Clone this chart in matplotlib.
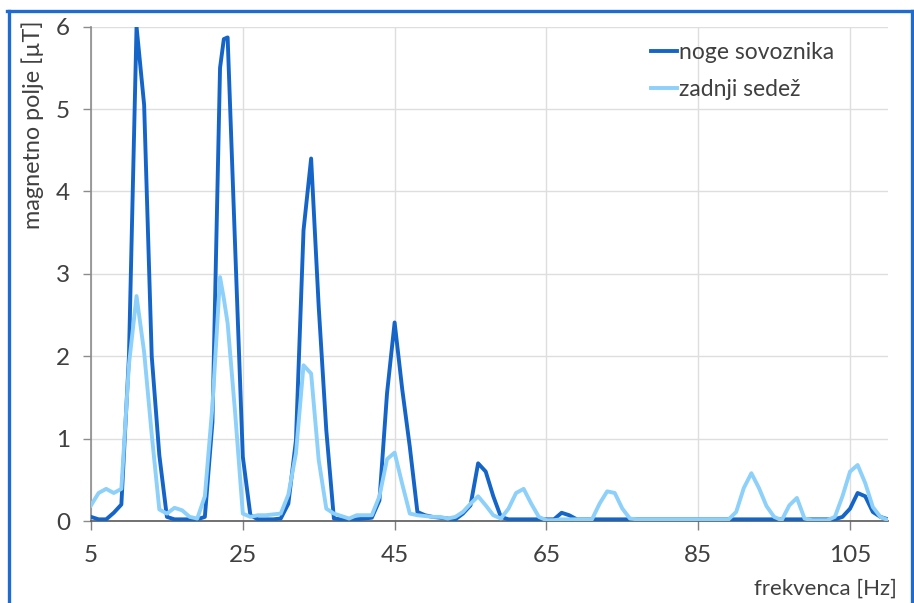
import matplotlib
matplotlib.use("Agg")
import matplotlib.pyplot as plt
from matplotlib.lines import Line2D

# ---- data ----
freq = [5, 6, 7, 8, 9, 10, 11, 12, 13, 14, 15, 16, 17, 18, 19, 20, 21, 22, 22.5,
        23, 24, 25, 26, 27, 28, 29, 30, 31, 32,
        33, 34, 35, 36, 37, 38, 39, 40, 41, 42,
        43, 44, 45, 46, 47, 48, 49, 50, 51, 52,
        53, 54, 55, 56, 57, 58, 59, 60, 61, 62,
        63, 64, 65, 66, 67, 68, 69, 70, 71, 72,
        73, 74, 75, 76, 77, 78, 79, 80, 81, 82,
        83, 84, 85, 86, 87, 88, 89, 90, 91, 92,
        93, 94, 95, 96, 97, 98, 99, 100, 101, 102,
        103, 104, 105, 106, 107, 108, 109, 110]

noge_sovoznika = [0.05, 0.02, 0.02, 0.10, 0.20, 2.0, 6.0, 5.05, 2.0, 0.8, 0.05, 0.02, 0.02, 0.02, 0.02, 0.05, 1.2, 5.5, 5.85,
                  5.87, 3.3, 0.78, 0.07, 0.02, 0.02, 0.02, 0.03, 0.21, 0.98,
                  3.53, 4.40, 2.6, 1.1, 0.03, 0.02, 0.02, 0.02, 0.03, 0.04,
                  0.25, 1.55, 2.41, 1.6, 0.9, 0.11, 0.07, 0.05, 0.04, 0.03,
                  0.02, 0.09, 0.19, 0.70, 0.60, 0.30, 0.05, 0.02, 0.02, 0.02,
                  0.02, 0.02, 0.02, 0.02, 0.10, 0.07, 0.02, 0.02, 0.02, 0.02,
                  0.02, 0.02, 0.02, 0.02, 0.02, 0.02, 0.02, 0.02, 0.02, 0.02,
                  0.02, 0.02, 0.02, 0.02, 0.02, 0.02, 0.02, 0.02, 0.02, 0.02,
                  0.02, 0.02, 0.02, 0.02, 0.02, 0.02, 0.02, 0.02, 0.02, 0.02,
                  0.02, 0.05, 0.15, 0.34, 0.30, 0.11, 0.05, 0.02]

zadnji_sedez = [0.19, 0.34, 0.39, 0.34, 0.39, 1.9, 2.73, 2.05, 1.05, 0.14, 0.09, 0.16, 0.13, 0.05, 0.03, 0.30, 1.4, 2.96, 2.7,
                2.4, 1.3, 0.09, 0.05, 0.07, 0.07, 0.08, 0.09, 0.32, 0.82,
                1.89, 1.79, 0.74, 0.15, 0.09, 0.06, 0.03, 0.07, 0.07, 0.07,
                0.30, 0.75, 0.83, 0.45, 0.09, 0.07, 0.06, 0.05, 0.05, 0.03,
                0.05, 0.11, 0.21, 0.30, 0.19, 0.07, 0.03, 0.15, 0.34, 0.39,
                0.21, 0.05, 0.01, 0.01, 0.02, 0.02, 0.02, 0.02, 0.02, 0.21,
                0.36, 0.34, 0.15, 0.03, 0.02, 0.02, 0.02, 0.02, 0.02, 0.02,
                0.02, 0.02, 0.02, 0.02, 0.02, 0.02, 0.02, 0.11, 0.40, 0.58,
                0.40, 0.18, 0.05, 0.01, 0.19, 0.28, 0.03, 0.01, 0.01, 0.01,
                0.05, 0.30, 0.60, 0.68, 0.46, 0.17, 0.05, 0.01]

series_names = ["noge sovoznika", "zadnji sedež"]
x_ticks = [5, 25, 45, 65, 85, 105]
y_ticks = [0, 1, 2, 3, 4, 5, 6]
x_label = "frekvenca [Hz]"
y_label = "magnetno polje [µT]"

# ---- style ----
W, H = 914, 603
DPI = 100
text_col = "#404040"
dark_col = "#1565C8"
light_col = "#8DD0FA"
border_col = "#1F6BD0"
plt.rcParams['font.family'] = ['Lato', 'DejaVu Sans']

fig = plt.figure(figsize=(W / DPI, H / DPI), dpi=DPI)
fig.patch.set_facecolor("white")

def fx(px):
    return px / W

def fy(py):
    return 1 - py / H

ax = fig.add_axes([fx(91), fy(521), fx(888) - fx(91), fy(26.7) - fy(521)])

ax.plot(freq, noge_sovoznika, color=dark_col, lw=2.8, label=series_names[0],
        solid_joinstyle='round', zorder=3)
ax.plot(freq, zadnji_sedez, color=light_col, lw=2.8, label=series_names[1],
        solid_joinstyle='round', zorder=4)

ax.set_xlim(5, 110)
ax.set_ylim(0, 6)
ax.set_xticks(x_ticks)
ax.set_yticks(y_ticks)
ax.tick_params(axis='both', labelsize=17.5, labelcolor=text_col)
ax.tick_params(axis='x', direction='out', length=6.5, width=1.0, color="#7f7f7f", pad=11)
ax.tick_params(axis='y', direction='out', length=6, width=1.0, color="#8c8c8c", pad=9)

ax.grid(True, color="#dedede", lw=1.0, zorder=0)
ax.set_axisbelow(True)
for s in ['top', 'right']:
    ax.spines[s].set_visible(False)
ax.spines['left'].set_color("#8c8c8c")
ax.spines['left'].set_linewidth(1.2)
ax.spines['bottom'].set_color("#595959")
ax.spines['bottom'].set_linewidth(1.2)

fig.text(fx(33), fy(125), y_label, rotation=90, ha='center', va='center',
         fontsize=16.8, color=text_col)
fig.text(fx(897), fy(589), x_label, ha='right', va='center',
         fontsize=16, color=text_col)

leg = ax.legend(loc='upper left', bbox_to_anchor=(fx(651), fy(42)),
                bbox_transform=fig.transFigure, frameon=False, fontsize=16.5,
                handlelength=1.15, handletextpad=0.08, borderpad=0,
                borderaxespad=0, labelspacing=0.68)
for t in leg.get_texts():
    t.set_color(text_col)

# outer blue frame
fig.add_artist(Line2D([fx(8.5), fx(8.5)], [fy(10.5), fy(610)], color=border_col, lw=2.4,
                      transform=fig.transFigure))
fig.add_artist(Line2D([fx(7.5), fx(915)], [fy(10.5), fy(10.5)], color=border_col, lw=2.4,
                      transform=fig.transFigure))
fig.add_artist(Line2D([fx(911.5), fx(911.5)], [fy(10.5), fy(610)], color=border_col, lw=2.4,
                      transform=fig.transFigure))

fig.savefig("out.png", dpi=DPI, facecolor="white")
